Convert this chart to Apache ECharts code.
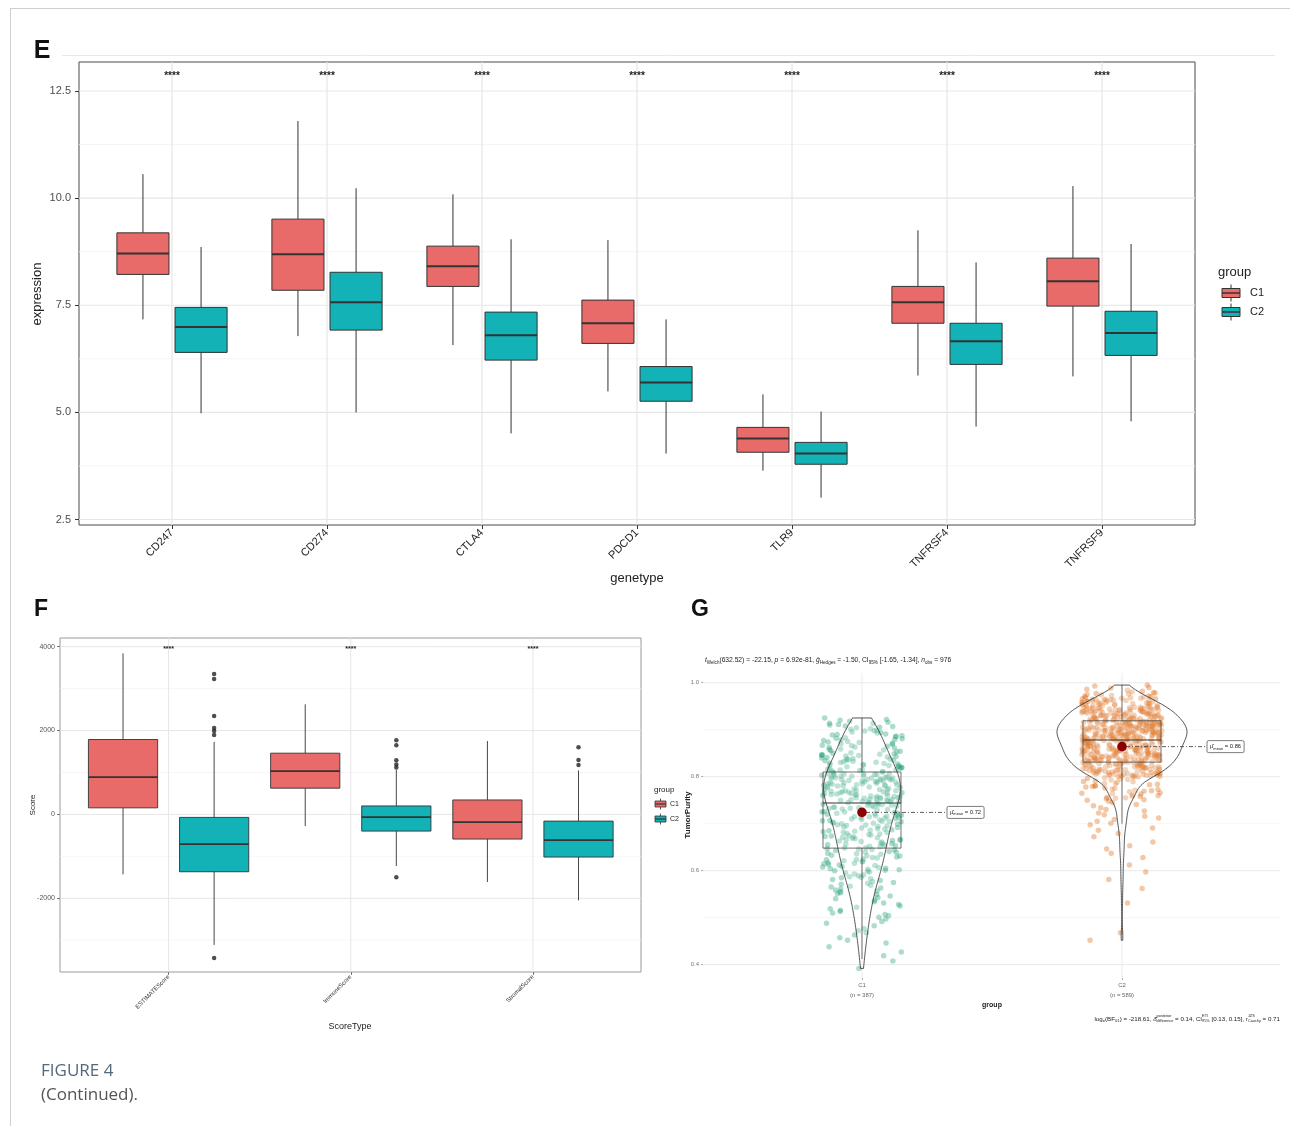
<!DOCTYPE html>
<html>
<head>
<meta charset="utf-8">
<script src="https://cdn.jsdelivr.net/npm/echarts@6/dist/echarts.min.js"></script>
<style>
html, body { margin: 0; padding: 0; background: #fff; }
#chart { width: 1290px; height: 1126px; }
</style>
</head>
<body>
<div id="chart"></div>
<script>
// ---------------- Panel E: checkpoint gene expression by cluster ----------------
const geneTypes = ['CD247', 'CD274', 'CTLA4', 'PDCD1', 'TLR9', 'TNFRSF4', 'TNFRSF9'];
// each row: [lower whisker, Q1, median, Q3, upper whisker]
const geneC1 = [
  [7.17, 8.22, 8.71, 9.19, 10.56],
  [6.78, 7.85, 8.69, 9.51, 11.80],
  [6.57, 7.94, 8.41, 8.88, 10.09],
  [5.49, 6.61, 7.08, 7.62, 9.02],
  [3.64, 4.07, 4.39, 4.65, 5.42],
  [5.86, 7.08, 7.57, 7.94, 9.25],
  [5.84, 7.48, 8.06, 8.60, 10.28]
];
const geneC2 = [
  [4.98, 6.40, 6.99, 7.45, 8.86],
  [5.00, 6.92, 7.57, 8.27, 10.23],
  [4.51, 6.22, 6.80, 7.34, 9.04],
  [4.04, 5.26, 5.70, 6.07, 7.17],
  [3.01, 3.79, 4.04, 4.30, 5.02],
  [4.67, 6.12, 6.66, 7.08, 8.50],
  [4.79, 6.33, 6.85, 7.36, 8.93]
];
const geneSignif = ['****', '****', '****', '****', '****', '****', '****'];
const exprTicks = [2.5, 5.0, 7.5, 10.0, 12.5];
const exprMinor = [3.75, 6.25, 8.75, 11.25];

// ---------------- Panel F: ESTIMATE scores by cluster ----------------
const scoreTypes = ['ESTIMATEScore', 'ImmuneScore', 'StromalScore'];
const scoreC1 = [
  [-1429, 157, 888, 1786, 3840],
  [-279, 626, 1031, 1460, 2626],
  [-1612, -588, -183, 345, 1750]
];
const scoreC2 = [
  [-3112, -1367, -707, -71, 1727],
  [-1230, -398, -64, 202, 1060],
  [-2050, -1017, -612, -160, 1050]
];
const scoreOutliersC2 = [
  [3346, 3227, 2344, 2058, 1987, 1891, -3426],
  [1770, 1650, 1290, 1190, 1120, -1500],
  [1600, 1300, 1180]
];
const scoreSignif = ['****', '****', '****'];
const scoreTicks = [-2000, 0, 2000, 4000];
const scoreMinor = [-3000, -1000, 1000, 3000];

// ---------------- Panel G: tumour purity (values in thousandths) ----------------
const purityGroups = ['C1', 'C2'];
const purityC1 = [
  392, 408, 419, 427, 438, 446,
  452, 457, 463, 468, 472, 477, 483, 488, 492, 497,
  501, 504, 507, 510, 513, 516, 519, 522, 525, 528, 531, 534, 537, 540, 543, 546, 549,
  551, 553, 555, 557, 559, 561, 563, 565, 567, 569, 571, 573, 575, 577, 579, 581, 583, 585, 587, 589, 591, 593, 595, 597, 599, 586,
  600, 601, 603, 604, 605, 607, 608, 609, 611, 612, 613, 615, 616, 617, 619, 620, 621, 623, 624, 625,
  627, 628, 629, 631, 632, 633, 635, 636, 637, 639, 640, 641, 643, 644, 645, 646, 647, 602,
  648, 649, 651, 652, 653, 654, 655, 656, 657, 658, 659, 661, 662, 663, 664, 665, 666, 667, 668, 669,
  670, 671, 672, 673, 674, 675, 676, 677, 678, 679, 681, 682, 683, 684, 685, 686, 687, 688, 689, 691,
  692, 693, 694, 695, 696, 697, 698, 699,
  700, 701, 702, 703, 704, 705, 706, 707, 708, 709, 710, 711, 712, 713, 714, 715, 716, 717, 718, 719,
  720, 721, 722, 723, 724, 725, 726, 727, 728, 729, 730, 731, 732, 733, 734, 735, 736, 737, 738, 739,
  740, 741, 742, 743, 705, 715, 725, 735, 740,
  744, 745, 746, 747, 748, 749, 750, 751, 752, 753, 754, 755, 756, 757, 758, 759, 760, 761, 762, 763,
  764, 765, 766, 767, 768, 769, 770, 771, 772, 773, 774, 775, 776, 777, 778, 779,
  746, 748, 750, 752, 754, 756, 758, 760, 762, 764, 766, 768, 770, 772,
  780, 781, 782, 783, 784, 785, 786, 787, 788, 789, 790, 791, 792, 793, 794, 795, 796, 797, 798, 799,
  800, 801, 802, 803, 804, 805, 806, 807, 808, 809,
  781, 783, 785, 787, 789, 791, 793, 795, 797, 799, 801, 803, 805, 807, 782, 794,
  810, 811, 812, 813, 814, 815, 816, 817, 818, 819, 820, 821, 822, 823, 824, 825, 826, 827, 828, 829,
  830, 831, 832, 833, 834, 835, 836, 837, 838, 839, 840, 841, 842, 843, 844, 845, 846, 847, 848, 849,
  815, 825, 835, 845,
  850, 851, 853, 854, 855, 857, 858, 859, 861, 862, 863, 865, 866, 867, 869, 870, 871, 873, 874, 875,
  877, 878, 879, 881, 882, 883, 885, 886, 887, 889, 890, 891, 893, 894, 895, 897, 898, 899,
  901, 902, 904, 905, 907, 908, 910, 911, 913, 914, 916, 918, 920, 922, 925
];
const purityC2 = [
  452, 468, 531, 562, 581, 597, 612, 628, 637, 646, 653, 661, 672, 679, 686, 691, 698,
  701, 705, 709, 712, 716, 719, 723, 727, 730, 734, 738, 741, 745, 748,
  750, 751, 753, 754, 755, 756, 758, 759, 760, 761, 763, 764, 765, 766, 768, 769, 770, 771, 773, 774,
  775, 776, 778, 779, 780, 781, 783, 784, 785, 786, 788, 789, 790, 791, 793, 794, 795, 796, 798, 799,
  800, 801, 802, 803, 804, 805, 806, 807, 808, 809, 810, 811, 812, 813, 814, 815, 816, 817, 818, 819,
  820, 821, 822, 823, 824, 825, 826, 827, 828, 829, 830,
  800, 801, 802, 803, 804, 805, 806, 807, 808, 809, 810, 811, 812, 813, 814, 815, 816, 817, 818, 819,
  820, 821, 822, 823, 824, 825, 826, 827, 828, 829, 830,
  801, 803, 805, 807, 809, 811, 813, 815, 817, 819, 821, 823, 825, 827,
  831, 832, 833, 834, 835, 836, 837, 838, 839, 840, 841, 842, 843, 844, 845, 846, 847, 848, 849, 850,
  851, 852, 853, 854, 855, 856, 857, 858, 859, 860, 861, 862, 863, 864, 865, 866, 867, 868, 869, 870,
  871, 872, 873, 874, 875, 876, 877,
  831, 832, 833, 834, 835, 836, 837, 838, 839, 840, 841, 842, 843, 844, 845, 846, 847, 848, 849, 850,
  851, 852, 853, 854, 855, 856, 857, 858, 859, 860, 861, 862, 863, 864, 865, 866, 867, 868, 869, 870,
  871, 872, 873, 874, 875, 876, 877,
  831, 832, 833, 834, 835, 836, 837, 838, 839, 840, 841, 842, 843, 844, 845, 846, 847, 848, 849, 850,
  851, 852, 853, 854, 855, 856, 857, 858, 859, 860, 861, 862, 863, 864, 865, 866, 867, 868, 869, 870,
  871, 872, 873, 874, 875, 876, 877,
  835, 842, 849, 856, 863, 870, 876,
  878, 879, 880, 881, 882, 883, 884, 885, 886, 887, 888, 889, 890, 891, 892, 893, 894, 895, 896, 897,
  898, 899, 900, 901, 902, 903, 904, 905, 906, 907, 908, 909, 910, 911, 912, 913, 914, 915, 916, 917, 918,
  878, 879, 880, 881, 882, 883, 884, 885, 886, 887, 888, 889, 890, 891, 892, 893, 894, 895, 896, 897,
  898, 899, 900, 901, 902, 903, 904, 905, 906, 907, 908, 909, 910, 911, 912, 913, 914, 915, 916, 917, 918,
  878, 879, 880, 881, 882, 883, 884, 885, 886, 887, 888, 889, 890, 891, 892, 893, 894, 895, 896, 897,
  898, 899, 900, 901, 902, 903, 904, 905, 906, 907, 908, 909, 910, 911, 912, 913, 914, 915, 916, 917, 918,
  879, 881, 883, 885, 887, 889, 891, 893, 895, 897, 899, 901, 903, 905, 907, 909, 911, 913, 915, 917,
  884, 894, 904, 914,
  919, 920, 921, 922, 923, 924, 925, 926, 927, 928, 929, 930, 931, 932, 933, 934, 935, 936, 937, 938,
  939, 940, 941, 942, 943, 944, 945, 946, 947, 948, 949,
  919, 920, 921, 922, 923, 924, 925, 926, 927, 928, 929, 930, 931, 932, 933, 934, 935, 936, 937, 938,
  939, 940, 941, 942, 943, 944, 945, 946, 947, 948, 949,
  920, 922, 924, 926, 928, 930, 932, 934, 936, 938, 940, 942, 944, 946, 948,
  921, 923, 925, 927, 929, 931, 933, 935, 937, 939, 941, 943, 945,
  950, 951, 952, 953, 954, 955, 956, 957, 958, 959, 960, 961, 962, 963, 964, 965, 966, 967, 968, 969,
  970, 971, 972, 973, 974, 975, 976, 977, 978, 979,
  950, 951, 952, 953, 954, 955, 956, 957, 958, 959, 960, 961, 962, 963, 964, 965, 966, 967, 968,
  980, 982, 984, 986, 988, 990, 993, 995
];
// [lower whisker, Q1, median, Q3, upper whisker]
const purityBox = [
  [0.412, 0.648, 0.744, 0.810, 0.925],
  [0.700, 0.831, 0.878, 0.919, 0.995]
];
const purityMean = [0.724, 0.864];
const purityTicks = [0.4, 0.6, 0.8, 1.0];
const purityMinor = [0.5, 0.7, 0.9];

// ---------------- styling ----------------
const FONT = '"Liberation Sans", Arial, Helvetica, sans-serif';
const RED = '#E86B69';
const TEAL = '#12B2B6';
const INK = '#333333';
const GREEN_PT = '#1B9E77';
const ORANGE_PT = '#D95F02';

const chart = echarts.init(document.getElementById('chart'), null, { renderer: 'canvas' });

// text measurement for inline math-like labels
const mctx = document.createElement('canvas').getContext('2d');
function textW(s, size, italic) {
  mctx.font = (italic ? 'italic ' : '') + size + 'px ' + FONT;
  return mctx.measureText(s).width;
}
function mathRun(pieces, base) {
  let x = 0;
  const items = [];
  pieces.forEach(p => {
    if (p.stack) {
      const s = base * 0.62;
      items.push({ text: p.stack[0], dx: x, dy: -base * 0.42, size: s });
      items.push({ text: p.stack[1], dx: x, dy: base * 0.34, size: s });
      x += Math.max(textW(p.stack[0], s), textW(p.stack[1], s));
    } else {
      const s = (p.sub || p.sup) ? base * 0.68 : base;
      const dy = p.sub ? base * 0.34 : (p.sup ? -base * 0.42 : 0);
      items.push({ text: p.t, dx: x, dy: dy, size: s, italic: !!p.i });
      x += textW(p.t, s, p.i);
    }
  });
  return { width: x, items: items };
}
function mathElements(run, x0, y0, color) {
  return run.items.map(it => ({
    type: 'text', x: x0 + it.dx, y: y0 + it.dy, silent: true,
    style: {
      text: it.text, fontSize: it.size, fontFamily: FONT,
      fontStyle: it.italic ? 'italic' : 'normal',
      fill: color, align: 'left', verticalAlign: 'middle'
    }
  }));
}

// background grid lines drawn inside a panel
function gridLineSeries(idx, xRef, yRef, hMajor, hMinor, vMajor, st) {
  const lines = [];
  hMinor.forEach(v => lines.push({ h: true, v: v, c: st.minor, w: st.minorW }));
  hMajor.forEach(v => lines.push({ h: true, v: v, c: st.major, w: st.majorW }));
  vMajor.forEach(v => lines.push({ h: false, v: v, c: st.major, w: st.majorW }));
  return {
    type: 'custom', xAxisIndex: idx, yAxisIndex: idx, silent: true, z: 1,
    data: lines.map(l => l.h ? [xRef, l.v] : [l.v, yRef]),
    renderItem: function (params, api) {
      const l = lines[params.dataIndex];
      const cs = params.coordSys;
      if (l.h) {
        const y = api.coord([xRef, l.v])[1];
        return { type: 'line', shape: { x1: cs.x, y1: y, x2: cs.x + cs.width, y2: y }, style: { stroke: l.c, lineWidth: l.w } };
      }
      const x = api.coord([l.v, yRef])[0];
      return { type: 'line', shape: { x1: x, y1: cs.y, x2: x, y2: cs.y + cs.height }, style: { stroke: l.c, lineWidth: l.w } };
    }
  };
}

// dodged box-and-whisker series
function boxSeries(idx, rows, offset, halfW, fill, lw, medW, z) {
  return {
    type: 'custom', xAxisIndex: idx, yAxisIndex: idx, silent: true, z: z || 3,
    data: rows.map((r, i) => [i].concat(r)),
    encode: { x: 0, y: [1, 2, 3, 4, 5] },
    renderItem: function (params, api) {
      const x = api.value(0) + offset;
      const mn = api.value(1), q1 = api.value(2), md = api.value(3), q3 = api.value(4), mx = api.value(5);
      const cx = api.coord([x, md])[0];
      const xl = api.coord([x - halfW, md])[0];
      const xr = api.coord([x + halfW, md])[0];
      const y = v => api.coord([x, v])[1];
      return {
        type: 'group', children: [
          { type: 'line', shape: { x1: cx, y1: y(q3), x2: cx, y2: y(mx) }, style: { stroke: INK, lineWidth: lw } },
          { type: 'line', shape: { x1: cx, y1: y(q1), x2: cx, y2: y(mn) }, style: { stroke: INK, lineWidth: lw } },
          { type: 'rect', shape: { x: xl, y: y(q3), width: xr - xl, height: y(q1) - y(q3) }, style: { fill: fill, stroke: INK, lineWidth: lw } },
          { type: 'line', shape: { x1: xl, y1: y(md), x2: xr, y2: y(md) }, style: { stroke: INK, lineWidth: medW } }
        ]
      };
    }
  };
}

// significance stars above each category
function starSeries(idx, labels, yVal, size) {
  return {
    type: 'custom', xAxisIndex: idx, yAxisIndex: idx, silent: true, z: 4,
    data: labels.map((s, i) => [i, yVal]),
    renderItem: function (params, api) {
      const p = api.coord([api.value(0), api.value(1)]);
      return { type: 'text', x: p[0], y: p[1], style: { text: labels[params.dataIndex], fontSize: size, fontFamily: FONT, fontWeight: 'bold', fill: '#222', align: 'center', verticalAlign: 'middle' } };
    }
  };
}

// kernel density (Gaussian, Silverman bandwidth) for the violins
function quantile(sorted, q) {
  const pos = (sorted.length - 1) * q, lo = Math.floor(pos), hi = Math.ceil(pos);
  return sorted[lo] + (sorted[hi] - sorted[lo]) * (pos - lo);
}
function density(vals) {
  const s = vals.slice().sort((a, b) => a - b);
  const n = s.length;
  const mean = s.reduce((a, b) => a + b, 0) / n;
  const sd = Math.sqrt(s.reduce((a, b) => a + (b - mean) * (b - mean), 0) / (n - 1));
  const iqr = quantile(s, 0.75) - quantile(s, 0.25);
  const bw = 0.9 * Math.min(sd, iqr / 1.34) * Math.pow(n, -0.2);
  const out = [];
  const steps = 160;
  for (let k = 0; k <= steps; k++) {
    const y = s[0] + (s[n - 1] - s[0]) * k / steps;
    let d = 0;
    for (let j = 0; j < n; j++) { const u = (y - s[j]) / bw; d += Math.exp(-0.5 * u * u); }
    out.push([y, d / (n * bw * Math.sqrt(2 * Math.PI))]);
  }
  return out;
}
const c1Vals = purityC1.map(v => v / 1000);
const c2Vals = purityC2.map(v => v / 1000);
const dens = [density(c1Vals), density(c2Vals)];
const densMax = Math.max.apply(null, dens[0].concat(dens[1]).map(d => d[1]));
const VIOLIN_HALF = 0.25;

// horizontal jitter of the points: integer hash of the point index, in [-0.5, 0.5)
function spread(i, seed) {
  let h = Math.imul(i + 1, 374761393) + Math.imul(seed, 668265263);
  h = Math.imul(h ^ (h >>> 13), 1274126177);
  h = h ^ (h >>> 16);
  return ((h >>> 0) % 10007) / 10007 - 0.5;
}
const JIT = 0.31;

const nObs = purityC1.length + purityC2.length;
const groupCounts = [purityC1.length, purityC2.length];

// ---------------- graphic: text, legends, frame ----------------
const graphics = [];
function addText(t, x, y, size, opts) {
  opts = opts || {};
  graphics.push({
    type: 'text', x: x, y: y, rotation: opts.rot || 0, silent: true, z: 10,
    style: {
      text: t, fontSize: size, fontFamily: opts.family || FONT, fontWeight: opts.bold ? 'bold' : 'normal',
      fill: opts.color || '#222', align: opts.align || 'center', verticalAlign: 'middle'
    }
  });
}
function addLine(x1, y1, x2, y2, color, w) {
  graphics.push({ type: 'line', silent: true, z: 0, shape: { x1: x1, y1: y1, x2: x2, y2: y2 }, style: { stroke: color, lineWidth: w } });
}
function legendKey(x, yc, w, h, whisk, fill, lw) {
  graphics.push({ type: 'line', silent: true, z: 10, shape: { x1: x + w / 2, y1: yc - h / 2 - whisk, x2: x + w / 2, y2: yc + h / 2 + whisk }, style: { stroke: INK, lineWidth: lw } });
  graphics.push({ type: 'rect', silent: true, z: 10, shape: { x: x, y: yc - h / 2, width: w, height: h }, style: { fill: fill, stroke: INK, lineWidth: lw } });
  graphics.push({ type: 'line', silent: true, z: 10, shape: { x1: x, y1: yc, x2: x + w, y2: yc }, style: { stroke: INK, lineWidth: lw * 1.5 } });
}

// page frame
addLine(10.5, 8, 10.5, 1126, '#cfcfcf', 1);
addLine(10, 8.5, 1290, 8.5, '#cfcfcf', 1);
addLine(62, 55.5, 1275, 55.5, '#e8e8e8', 1);

// panel letters
addText('E', 42, 51, 25, { bold: true, color: '#111' });
addText('F', 41, 610, 23, { bold: true, color: '#111' });
addText('G', 700, 610, 23, { bold: true, color: '#111' });

// panel E titles + legend
addText('genetype', 637, 578, 13, { color: '#222' });
addText('expression', 37, 294, 13, { rot: Math.PI / 2, color: '#222' });
addText('group', 1218, 272, 13, { align: 'left', color: '#222' });
legendKey(1222, 293, 18, 9, 4, RED, 1);
legendKey(1222, 312, 18, 9, 4, TEAL, 1);
addText('C1', 1250, 293, 11, { align: 'left', color: '#222' });
addText('C2', 1250, 312, 11, { align: 'left', color: '#222' });

// panel F titles + legend
addText('ScoreType', 350, 1027, 9, { color: '#222' });
addText('Score', 33, 805, 8, { rot: Math.PI / 2, color: '#222' });
addText('group', 654, 790, 8, { align: 'left', color: '#222' });
legendKey(655, 804, 11, 6, 2.5, RED, 0.8);
legendKey(655, 819, 11, 6, 2.5, TEAL, 0.8);
addText('C1', 670, 804, 7, { align: 'left', color: '#222' });
addText('C2', 670, 819, 7, { align: 'left', color: '#222' });

// panel G titles and statistics lines
addText('TumorPurity', 688, 815, 8, { rot: Math.PI / 2, bold: true, color: '#222' });
addText('group', 992, 1005, 7, { bold: true, color: '#222' });
const subRun = mathRun([
  { t: 't', i: 1 }, { t: 'Welch', sub: 1 }, { t: '(632.52) = -22.15, ' },
  { t: 'p', i: 1 }, { t: ' = 6.92e-81, ' },
  { t: 'ĝ', i: 1 }, { t: 'Hedges', sub: 1 }, { t: ' = -1.50, CI' }, { t: '95%', sub: 1 },
  { t: ' [-1.65, -1.34], ' }, { t: 'n', i: 1 }, { t: 'obs', sub: 1 }, { t: ' = ' + nObs }
], 6.7);
mathElements(subRun, 705, 660, '#222').forEach(e => graphics.push(e));
const capRun = mathRun([
  { t: 'log' }, { t: 'e', sub: 1 }, { t: '(BF' }, { t: '01', sub: 1 }, { t: ') = -218.61, ' },
  { t: 'δ̂', i: 1 }, { stack: ['posterior', 'difference'] }, { t: ' = 0.14, CI' },
  { stack: ['ETI', '95%'] }, { t: ' [0.13, 0.15], ' },
  { t: 'r', i: 1 }, { stack: ['JZS', 'Cauchy'] }, { t: ' = 0.71' }
], 6.2);
mathElements(capRun, 1280 - capRun.width, 1019, '#222').forEach(e => graphics.push(e));

// figure caption
addText('FIGURE 4', 41, 1071, 17, { align: 'left', color: '#56687a', family: '"Open Sans", "Liberation Sans", sans-serif' });
addText('(Continued).', 41, 1095, 17, { align: 'left', color: '#555', family: '"Open Sans", "Liberation Sans", sans-serif' });

// ---------------- axes ----------------
const catLabel = (names) => (v => names[Math.round(v)] || '');
const idxE = geneTypes.map((g, i) => i);
const idxF = scoreTypes.map((g, i) => i);
const idxG = purityGroups.map((g, i) => i);
const noLine = { show: false, onZero: false };

const option = {
  animation: false,
  backgroundColor: '#ffffff',
  grid: [
    { left: 79, top: 62, width: 1116, height: 463, show: true, borderColor: '#4a4a4a', borderWidth: 1, backgroundColor: 'transparent', containLabel: false, outerBoundsMode: 'none' },
    { left: 60, top: 638, width: 581, height: 334, show: true, borderColor: '#9a9a9a', borderWidth: 1, backgroundColor: 'transparent', containLabel: false, outerBoundsMode: 'none' },
    { left: 703, top: 673, width: 577, height: 305, show: false, containLabel: false, outerBoundsMode: 'none' }
  ],
  xAxis: [
    {
      type: 'value', gridIndex: 0, min: -0.6, max: 6.6, position: 'bottom',
      splitLine: { show: false }, axisLine: noLine,
      axisTick: { show: true, customValues: idxE, length: 4, lineStyle: { color: '#333', width: 1 } },
      axisLabel: { show: true, customValues: idxE, formatter: catLabel(geneTypes), rotate: 45, fontSize: 11, fontFamily: FONT, color: '#222', margin: 6 }
    },
    {
      type: 'value', gridIndex: 1, min: -0.596, max: 2.593, position: 'bottom',
      splitLine: { show: false }, axisLine: noLine,
      axisTick: { show: true, customValues: idxF, length: 3, lineStyle: { color: '#555', width: 0.8 } },
      axisLabel: { show: true, customValues: idxF, formatter: catLabel(scoreTypes), rotate: 45, fontSize: 6, fontFamily: FONT, color: '#333', margin: 4 }
    },
    {
      type: 'value', gridIndex: 2, min: -0.6115, max: 1.6077, position: 'bottom',
      splitLine: { show: false }, axisLine: noLine,
      axisTick: { show: true, customValues: idxG, length: 2, lineStyle: { color: '#999', width: 0.8 } },
      axisLabel: { show: true, customValues: idxG, formatter: v => { const i = Math.round(v); return purityGroups[i] + '\n(n = ' + groupCounts[i] + ')'; }, fontSize: 6, lineHeight: 10, fontFamily: FONT, color: '#666', margin: 2 }
    }
  ],
  yAxis: [
    {
      type: 'value', gridIndex: 0, min: 2.372, max: 13.177, position: 'left',
      splitLine: { show: false }, axisLine: noLine,
      axisTick: { show: true, customValues: exprTicks, length: 4, lineStyle: { color: '#333', width: 1 } },
      axisLabel: { show: true, customValues: exprTicks, formatter: v => v.toFixed(1), fontSize: 11, fontFamily: FONT, color: '#4d4d4d', margin: 8 }
    },
    {
      type: 'value', gridIndex: 1, min: -3758, max: 4207, position: 'left',
      splitLine: { show: false }, axisLine: noLine,
      axisTick: { show: true, customValues: scoreTicks, length: 3, lineStyle: { color: '#555', width: 0.8 } },
      axisLabel: { show: true, customValues: scoreTicks, formatter: v => String(v), fontSize: 7, fontFamily: FONT, color: '#555', margin: 5 }
    },
    {
      type: 'value', gridIndex: 2, min: 0.3716, max: 1.0207, position: 'left',
      splitLine: { show: false }, axisLine: noLine,
      axisTick: { show: true, customValues: purityTicks, length: 2, lineStyle: { color: '#999', width: 0.8 } },
      axisLabel: { show: true, customValues: purityTicks, formatter: v => v.toFixed(1), fontSize: 6, fontFamily: FONT, color: '#777', margin: 4 }
    }
  ],
  graphic: { elements: graphics },
  series: []
};

const S = option.series;

// Panel E
S.push(gridLineSeries(0, 0, 5, exprTicks, exprMinor, idxE, { major: '#e6e6e6', majorW: 1.2, minor: '#f2f2f2', minorW: 0.8 }));
S.push(boxSeries(0, geneC1, -0.1875, 0.168, RED, 1, 2));
S.push(boxSeries(0, geneC2, 0.1875, 0.168, TEAL, 1, 2));
S.push(starSeries(0, geneSignif, 12.85, 10));

// Panel F
S.push(gridLineSeries(1, 0, 0, scoreTicks, scoreMinor, idxF, { major: '#e6e6e6', majorW: 1, minor: '#f2f2f2', minorW: 0.7 }));
S.push(boxSeries(1, scoreC1, -0.25, 0.19, RED, 0.9, 1.8));
S.push(boxSeries(1, scoreC2, 0.25, 0.19, TEAL, 0.9, 1.8));
S.push({
  type: 'scatter', xAxisIndex: 1, yAxisIndex: 1, silent: true, z: 4,
  symbol: 'circle', symbolSize: 4.5, itemStyle: { color: '#222' },
  data: scoreOutliersC2.flatMap((arr, i) => arr.map(v => [i + 0.25, v]))
});
S.push(starSeries(1, scoreSignif, 3942, 7));

// Panel G
S.push(gridLineSeries(2, 0, 0.7, purityTicks, purityMinor, idxG, { major: '#ebebeb', majorW: 1, minor: '#f4f4f4', minorW: 0.8 }));
S.push({
  type: 'scatter', xAxisIndex: 2, yAxisIndex: 2, silent: true, z: 2,
  symbol: 'circle', symbolSize: 5.5, itemStyle: { color: GREEN_PT, opacity: 0.36 },
  data: c1Vals.map((v, i) => [0 + spread(i, 1) * JIT, v])
});
S.push({
  type: 'scatter', xAxisIndex: 2, yAxisIndex: 2, silent: true, z: 2,
  symbol: 'circle', symbolSize: 5.5, itemStyle: { color: ORANGE_PT, opacity: 0.34 },
  data: c2Vals.map((v, i) => [1 + spread(i, 2) * JIT, v])
});
// violins
S.push({
  type: 'custom', xAxisIndex: 2, yAxisIndex: 2, silent: true, z: 3,
  data: purityGroups.map((g, i) => [i, purityBox[i][2]]),
  renderItem: function (params, api) {
    const i = params.dataIndex;
    const d = dens[i];
    const right = d.map(p => api.coord([i + p[1] / densMax * VIOLIN_HALF, p[0]]));
    const left = d.slice().reverse().map(p => api.coord([i - p[1] / densMax * VIOLIN_HALF, p[0]]));
    return { type: 'polygon', shape: { points: right.concat(left) }, style: { fill: 'rgba(255,255,255,0.2)', stroke: '#2b2b2b', lineWidth: 0.8 } };
  }
});
S.push(boxSeries(2, purityBox, 0, 0.15, 'rgba(255,255,255,0)', 0.7, 1.1, 4));
// means with labels
S.push({
  type: 'custom', xAxisIndex: 2, yAxisIndex: 2, silent: true, z: 5,
  data: purityMean.map((m, i) => [i, m]),
  renderItem: function (params, api) {
    const i = api.value(0), m = api.value(1);
    const p = api.coord([i, m]);
    const lx = api.coord([i + 0.327, m])[0];
    const run = mathRun([{ t: 'μ̂' }, { t: 'mean', sub: 1 }, { t: ' = ' + m.toFixed(2) }], 5.8);
    const bw = run.width + 6, bh = 12;
    const kids = [
      { type: 'line', shape: { x1: p[0] + 4, y1: p[1], x2: lx, y2: p[1] }, style: { stroke: '#333', lineWidth: 0.8, lineDash: [4, 2, 1, 2] } },
      { type: 'circle', shape: { cx: p[0], cy: p[1], r: 4.8 }, style: { fill: '#8B0000' } },
      { type: 'rect', shape: { x: lx, y: p[1] - bh / 2, width: bw, height: bh, r: 1.5 }, style: { fill: '#fff', stroke: '#444', lineWidth: 0.7 } }
    ];
    return { type: 'group', children: kids.concat(mathElements(run, lx + 3, p[1], '#222')) };
  }
});

chart.setOption(option);
</script>
</body>
</html>
